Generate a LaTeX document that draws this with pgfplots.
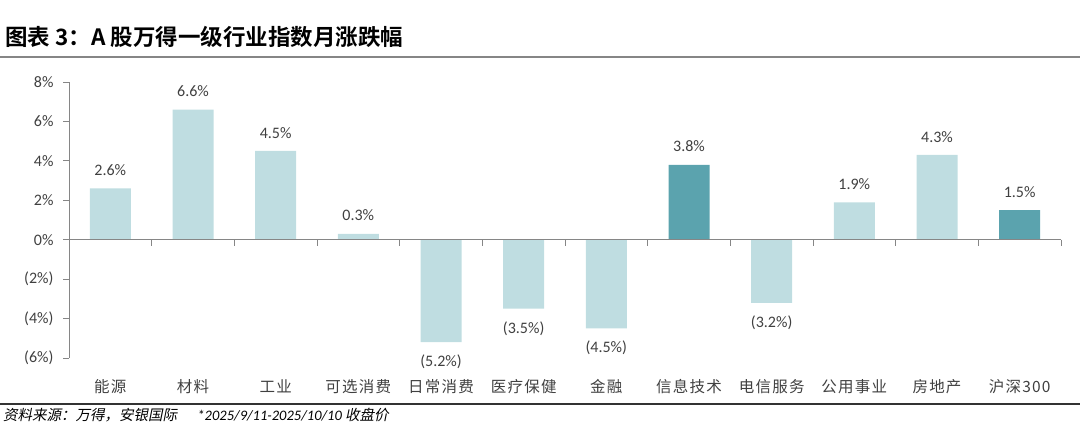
\documentclass[border=0pt]{standalone}
\usepackage{fontspec}
\setmainfont{Carlito}
\newfontfamily\cjk{Noto Sans CJK SC}[BoldFont={Noto Sans CJK SC Bold}]
\newfontfamily\cjkl{Noto Sans CJK SC}[LetterSpace=8]
\newfontfamily\cjkit{Noto Sans CJK SC}[FakeSlant=0.2]
\usepackage{pgfplots}
\usepackage{pgfplotstable}
\pgfplotsset{compat=1.18}

\definecolor{barlight}{RGB}{191,221,225}
\definecolor{bardark}{RGB}{91,163,174}
\definecolor{axisgray}{RGB}{134,134,134}
\definecolor{txt}{RGB}{64,64,64}

% light bars, positive
\pgfplotstableread{
x val
0 2.6
1 6.6
2 4.5
3 0.3
9 1.9
10 4.3
}\lightpos
% light bars, negative
\pgfplotstableread{
x val
4 -5.2
5 -3.5
6 -4.5
8 -3.2
}\lightneg
% dark bars
\pgfplotstableread{
x val
7 3.8
11 1.5
}\darkpos

\begin{document}
\begin{tikzpicture}[x=1pt,y=1pt]
\path[use as bounding box] (0,0) rectangle (1080,439);

\node[anchor=base west, inner sep=0] at (5,393)
  {\cjk\bfseries\fontsize{22.5}{22.5}\selectfont 图表 3：A 股万得一级行业指数月涨跌幅};
\draw[line width=2pt, color=axisgray] (0,382) -- (1080,382);

\begin{axis}[
  at={(69pt,81pt)}, anchor=south west,
  scale only axis, width=992pt, height=276pt,
  xmin=-0.5, xmax=11.5, ymin=-6, ymax=8,
  ybar, bar width=41pt,
  axis y line*=left, axis x line*=bottom,
  x axis line style={draw=none},
  y axis line style={axisgray, line width=0.8pt},
  xtick={0,...,11},
  xticklabels={能源,材料,工业,可选消费,日常消费,医疗保健,金融,信息技术,电信服务,公用事业,房地产,沪深300},
  xticklabel style={font=\cjkl\fontsize{15.5}{15.5}\selectfont, text=txt, yshift=-12pt},
  major x tick style={draw=none},
  ytick={-6,-4,...,8},
  yticklabels={(6\%),(4\%),(2\%),0\%,2\%,4\%,6\%,8\%},
  yticklabel style={font=\fontsize{16}{16}\selectfont, text=txt, xshift=-6pt},
  y tick style={axisgray, line width=0.8pt},
  tick align=outside, major tick length=6pt,
  nodes near coords style={font=\fontsize{16}{16}\selectfont, text=txt, inner ysep=12.5pt},
  clip=false,
]
\addplot[fill=barlight, draw=none, bar shift=0pt, point meta=explicit,
  nodes near coords={\pgfmathprintnumber[fixed,fixed zerofill,precision=1,assume math mode=true]{\pgfplotspointmeta}\%},
  nodes near coords style={anchor=south}]
  table[x=x, y=val, meta=val] {\lightpos};
\addplot[fill=barlight, draw=none, bar shift=0pt, point meta={-\thisrow{val}},
  nodes near coords={(\pgfmathprintnumber[fixed,fixed zerofill,precision=1,assume math mode=true]{\pgfplotspointmeta}\%)},
  nodes near coords style={anchor=north}]
  table[x=x, y=val] {\lightneg};
\addplot[fill=bardark, draw=none, bar shift=0pt, point meta=explicit,
  nodes near coords={\pgfmathprintnumber[fixed,fixed zerofill,precision=1,assume math mode=true]{\pgfplotspointmeta}\%},
  nodes near coords style={anchor=south}]
  table[x=x, y=val, meta=val] {\darkpos};

\draw[axisgray, line width=0.8pt] (axis cs:-0.5,0) -- (axis cs:11.5,0);
\pgfplotsinvokeforeach{0.5,1.5,2.5,3.5,4.5,5.5,6.5,7.5,8.5,9.5,10.5,11.5}{
  \draw[axisgray, line width=0.8pt] (axis cs:#1,0) -- (axis cs:#1,-0.3);
}
\end{axis}

\draw[line width=1.2pt, color=black!80] (0,35) -- (1080,35);
\node[anchor=base west, inner sep=0] at (3,18)
  {\fontsize{14.5}{14.5}\selectfont{\cjkit 资料来源：万得，安银国际}\hspace{1.4em}{\itshape *2025/9/11-2025/10/10} {\cjkit 收盘价}};
\end{tikzpicture}
\end{document}
